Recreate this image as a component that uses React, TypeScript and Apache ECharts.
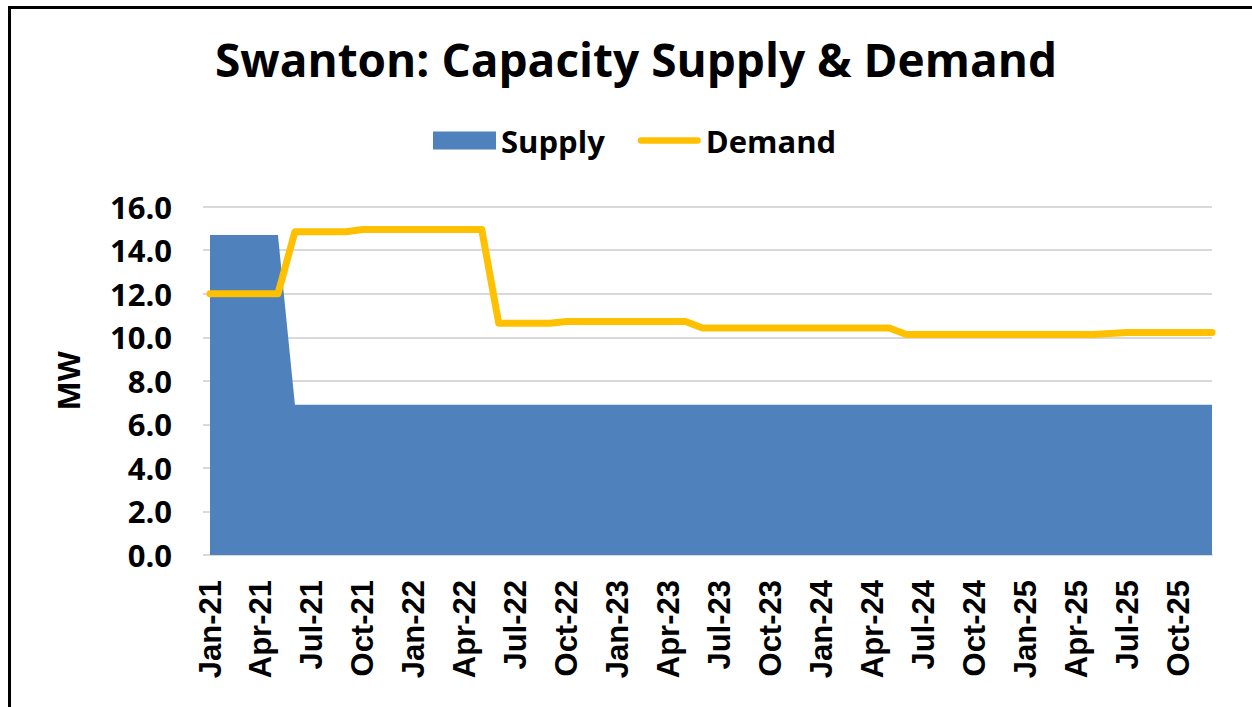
import React, { useEffect, useRef } from "react";
import * as echarts from "echarts";

const CATEGORIES = [
  "Jan-21","Feb-21","Mar-21","Apr-21","May-21","Jun-21","Jul-21","Aug-21","Sep-21","Oct-21","Nov-21","Dec-21",
  "Jan-22","Feb-22","Mar-22","Apr-22","May-22","Jun-22","Jul-22","Aug-22","Sep-22","Oct-22","Nov-22","Dec-22",
  "Jan-23","Feb-23","Mar-23","Apr-23","May-23","Jun-23","Jul-23","Aug-23","Sep-23","Oct-23","Nov-23","Dec-23",
  "Jan-24","Feb-24","Mar-24","Apr-24","May-24","Jun-24","Jul-24","Aug-24","Sep-24","Oct-24","Nov-24","Dec-24",
  "Jan-25","Feb-25","Mar-25","Apr-25","May-25","Jun-25","Jul-25","Aug-25","Sep-25","Oct-25","Nov-25","Dec-25",
];

const SUPPLY = [
  14.7, 14.7, 14.7, 14.7, 14.7, 6.9, 6.9, 6.9, 6.9, 6.9, 6.9, 6.9,
  6.9, 6.9, 6.9, 6.9, 6.9, 6.9, 6.9, 6.9, 6.9, 6.9, 6.9, 6.9,
  6.9, 6.9, 6.9, 6.9, 6.9, 6.9, 6.9, 6.9, 6.9, 6.9, 6.9, 6.9,
  6.9, 6.9, 6.9, 6.9, 6.9, 6.9, 6.9, 6.9, 6.9, 6.9, 6.9, 6.9,
  6.9, 6.9, 6.9, 6.9, 6.9, 6.9, 6.9, 6.9, 6.9, 6.9, 6.9, 6.9,
];

const DEMAND = [
  12.0, 12.0, 12.0, 12.0, 12.0, 14.85, 14.85, 14.85, 14.85, 14.95, 14.95, 14.95,
  14.95, 14.95, 14.95, 14.95, 14.95, 10.65, 10.65, 10.65, 10.65, 10.73, 10.73, 10.73,
  10.73, 10.73, 10.73, 10.73, 10.73, 10.43, 10.43, 10.43, 10.43, 10.43, 10.43, 10.43,
  10.43, 10.43, 10.43, 10.43, 10.43, 10.13, 10.13, 10.13, 10.13, 10.13, 10.13, 10.13,
  10.13, 10.13, 10.13, 10.13, 10.13, 10.18, 10.22, 10.22, 10.22, 10.22, 10.22, 10.22,
];

const TITLE = "Swanton: Capacity Supply & Demand";
const Y_NAME = "MW";

export default function App() {
  const ref = useRef<HTMLDivElement>(null);

  useEffect(() => {
    if (!ref.current) return;
    const chart = echarts.init(ref.current, undefined, { renderer: "svg" });
    chart.setOption({
      animation: false,
      backgroundColor: "#ffffff",
      title: {
        text: TITLE,
        left: 631,
        top: 31,
        textAlign: "center",
        textStyle: {
          fontFamily: "Open Sans",
          fontWeight: "bold",
          fontSize: 46,
          color: "#000000",
        },
      },
      legend: {
        left: 428,
        top: 120,
        itemWidth: 63,
        itemHeight: 18,
        itemGap: 33,
        textStyle: {
          fontFamily: "Open Sans",
          fontWeight: "bold",
          fontSize: 31,
          color: "#000000",
          padding: [0, 0, 0, 0],
        },
        data: [
          { name: "Supply", icon: "rect" },
          { name: "Demand", icon: "path://M3.5,0 L64.5,0 A3.5,3.5 0 0 1 64.5,7 L3.5,7 A3.5,3.5 0 0 1 3.5,0 Z" },
        ],
      },
      grid: {
        left: 210,
        right: 40,
        top: 206.7,
        bottom: 152,
        containLabel: false,
      },
      xAxis: {
        type: "category",
        data: CATEGORIES,
        boundaryGap: false,
        axisLine: { show: true, lineStyle: { color: "#D9D9D9", width: 2 } },
        axisTick: { show: false },
        splitLine: { show: false },
        axisLabel: {
          interval: 2,
          rotate: 90,
          margin: 25,
          fontFamily: "Liberation Sans",
          fontWeight: "bold",
          fontSize: 31,
          color: "#000000",
        },
      },
      yAxis: {
        type: "value",
        min: 0,
        max: 16,
        interval: 2,
        name: Y_NAME,
        nameLocation: "middle",
        nameGap: 127,
        nameTextStyle: {
          fontFamily: "Open Sans",
          fontWeight: "bold",
          fontSize: 31,
          color: "#000000",
        },
        axisLine: { show: false },
        axisTick: { show: true, length: 7, lineStyle: { color: "#D9D9D9", width: 2 } },
        splitLine: { show: true, lineStyle: { color: "#D9D9D9", width: 2 } },
        axisLabel: {
          margin: 38,
          formatter: (v: number) => v.toFixed(1),
          fontFamily: "Open Sans",
          fontWeight: "bold",
          fontSize: 31,
          color: "#000000",
        },
      },
      series: [
        {
          name: "Supply",
          type: "line",
          data: SUPPLY,
          symbol: "none",
          color: "#4F81BD",
          lineStyle: { width: 0 },
          areaStyle: { color: "#4F81BD", opacity: 1 },
          itemStyle: { color: "#4F81BD" },
        },
        {
          name: "Demand",
          type: "line",
          data: DEMAND,
          symbol: "none",
          color: "#FFC000",
          lineStyle: { width: 7, color: "#FFC000", cap: "round", join: "round" },
          itemStyle: { color: "#FFC000" },
        },
      ],
    });
    return () => chart.dispose();
  }, []);

  return (
    <div style={{ position: "fixed", left: 0, top: 0, width: 1252, height: 707, overflow: "hidden", background: "#fff" }}>
      <div ref={ref} style={{ position: "absolute", left: 0, top: 0, width: 1252, height: 707 }} />
      <div
        style={{
          position: "absolute",
          left: 8,
          top: 6,
          width: 1400,
          height: 900,
          borderLeft: "3px solid #000",
          borderTop: "3px solid #000",
          pointerEvents: "none",
        }}
      />
    </div>
  );
}
